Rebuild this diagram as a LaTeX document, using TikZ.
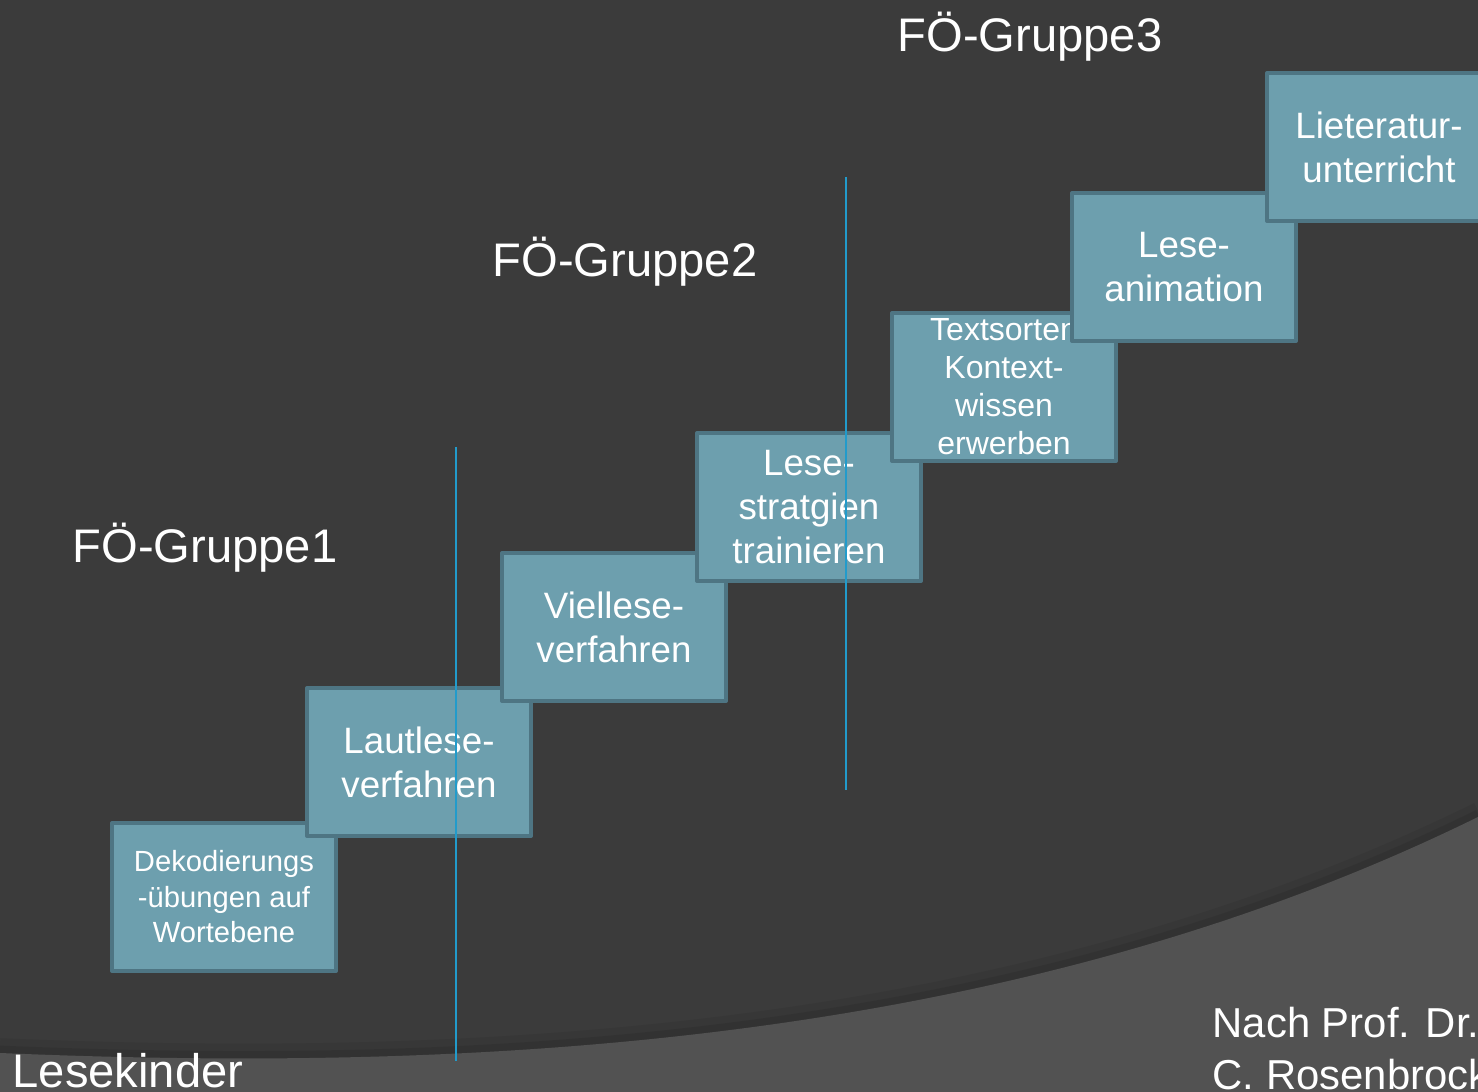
\documentclass[tikz,border=0pt]{standalone}
\usepackage{fontspec}
\setmainfont{Liberation Sans}
\definecolor{hgdunkel}{HTML}{3B3B3B}
\definecolor{hghell}{HTML}{525252}
\definecolor{stufenfarbe}{HTML}{6D9FAE}
\definecolor{stufenrand}{HTML}{4E7583}
\definecolor{trennfarbe}{HTML}{229BCB}
\tikzset{
  stufe/.style={draw=stufenrand,fill=stufenfarbe,line width=1.1pt,minimum width=2.24cm,
    minimum height=1.48cm,inner sep=0pt,align=center,text=white,
    font=\fontsize{10.44}{12.5}\selectfont},
  gruppe/.style={anchor=base west,inner sep=0pt,text=white,font=\fontsize{13.4}{16}\selectfont},
  quelle/.style={anchor=base west,inner sep=0pt,text=white,font=\fontsize{11.9}{15}\selectfont},
  grenze/.style={draw=trennfarbe,line width=0.6pt}
}
\begin{document}
\begin{tikzpicture}[x=0.01cm,y=-0.01cm,line join=round]
		\useasboundingbox (0,0) rectangle (1478,1092);
		\clip (0,0) rectangle (1478,1092);
		% Hintergrund
		\fill[hgdunkel] (0,0) rectangle (1478,1092);
		\draw[black,opacity=0.06,line width=5pt] (0,1047) .. controls (450,1066) and (1000,1046) .. (1478,811);
		\draw[black,opacity=0.08,line width=2.5pt] (0,1050) .. controls (450,1069) and (1000,1049) .. (1478,814);
		\fill[hghell] (0,1053) .. controls (450,1072) and (1000,1052) .. (1478,817) -- (1478,1092) -- (0,1092) -- cycle;
		% Treppe
		\node[stufe,font=\fontsize{8.3}{10.1}\selectfont] (s1) at (224,897) {Dekodierungs\\-übungen auf\\Wortebene};
		\node[stufe] (s2) at (419,762) {Lautlese-\\verfahren};
		\node[stufe] (s3) at (614,627) {Viellese-\\verfahren};
		\node[stufe] (s4) at (809,507) {Lese-\\stratgien\\trainieren};
		\node[stufe,font=\fontsize{9.1}{10.8}\selectfont] (s5) at (1004,387) {Textsorten\\Kontext-\\wissen\\erwerben};
		\node[stufe] (s6) at (1184,267) {Lese-\\animation};
		\node[stufe] (s7) at (1379,147) {Lieteratur-\\unterricht};
		% Beschriftung
		\node[gruppe] (g1) at (72,563) {FÖ-Gruppe1};
		\node[gruppe] (g2) at (492,277) {FÖ-Gruppe2};
		\node[gruppe] (g3) at (897,52) {FÖ-Gruppe3};
		\node[gruppe] (kinder) at (12,1088) {Lesekinder};
		\node[quelle] (q1) at (1212,1038) {Nach Prof. Dr.};
		\node[quelle] (q2) at (1212,1090) {C. Rosenbrock};
		% Grenzen
		\coordinate (t1o) at (456,447);
		\coordinate (t1u) at (456,1061);
		\coordinate (t2o) at (846,177);
		\coordinate (t2u) at (846,790);
		\draw[grenze] (t1o) -- (t1u) (t2o) -- (t2u);
\end{tikzpicture}
\end{document}
